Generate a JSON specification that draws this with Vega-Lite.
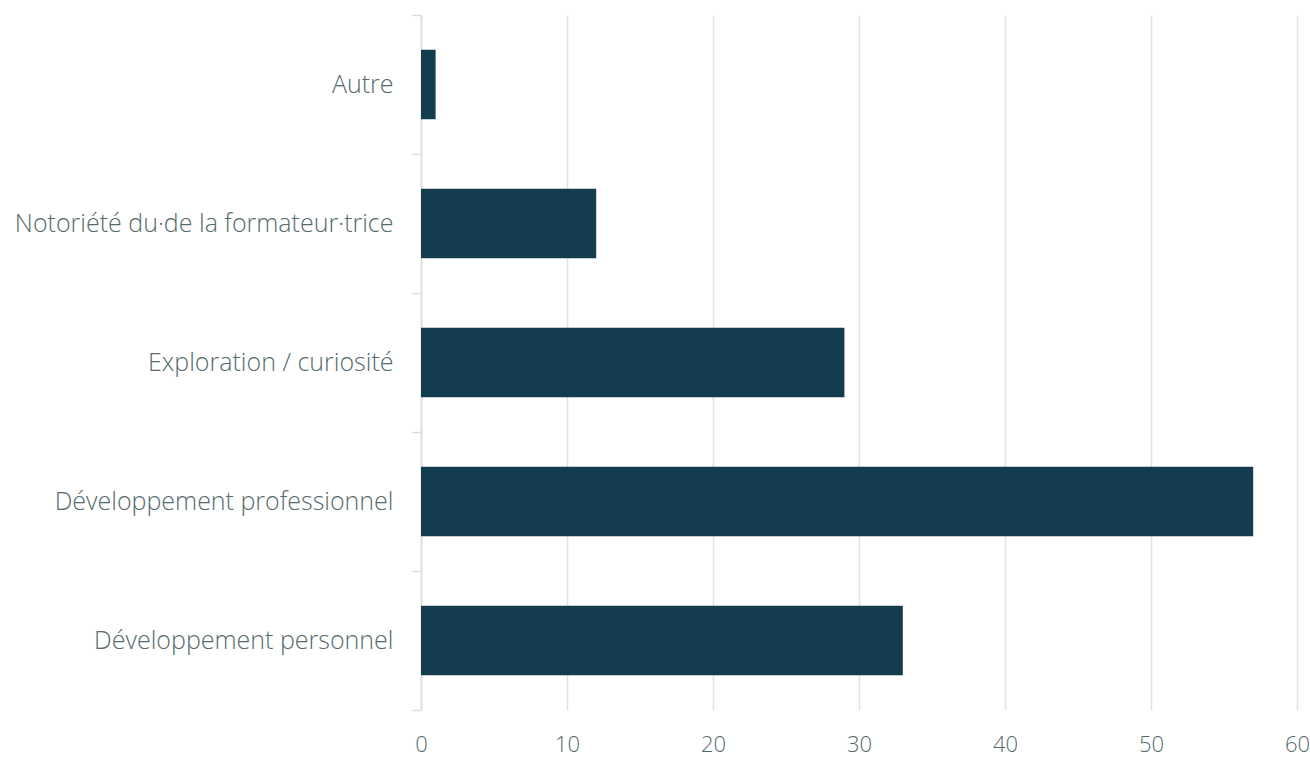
{
  "$schema": "https://vega.github.io/schema/vega-lite/v6.json",
  "width": 876,
  "height": 695,
  "autosize": {"type": "none"},
  "padding": {"left": 421, "top": 15, "right": 13, "bottom": 50},
  "background": "white",
  "config": {"view": {"stroke": null}},
  "data": {"values": [
    {"raison": "Autre", "n": 1},
    {"raison": "Notoriété du·de la formateur·trice", "n": 12},
    {"raison": "Exploration / curiosité", "n": 29},
    {"raison": "Développement professionnel", "n": 57},
    {"raison": "Développement personnel", "n": 33}
  ]},
  "mark": {"type": "bar", "color": "#133c4f", "height": {"band": 0.5}},
  "encoding": {
    "y": {
      "field": "raison", "type": "nominal", "sort": null,
      "scale": {"paddingInner": 0, "paddingOuter": 0},
      "axis": {
        "title": null, "domain": true, "domainColor": "#d9dedd", "domainWidth": 1.5,
        "ticks": true, "tickBand": "extent", "tickColor": "#d9dedd", "tickSize": 9, "tickWidth": 1.5,
        "labelFont": "Open Sans", "labelFontSize": 25, "labelFontWeight": 300, "labelColor": "#566b6d", "labelPadding": 19,
        "labelLimit": 500
      }
    },
    "x": {
      "field": "n", "type": "quantitative",
      "scale": {"domain": [0, 60], "nice": false},
      "axis": {
        "title": null, "values": [0, 10, 20, 30, 40, 50, 60], "domain": false, "ticks": false,
        "grid": true, "gridColor": "#dfe3e2", "gridWidth": 1.5, "labelFlush": false,
        "labelFont": "Open Sans", "labelFontSize": 22, "labelFontWeight": 300, "labelColor": "#566b6d", "labelPadding": 24
      }
    }
  }
}
